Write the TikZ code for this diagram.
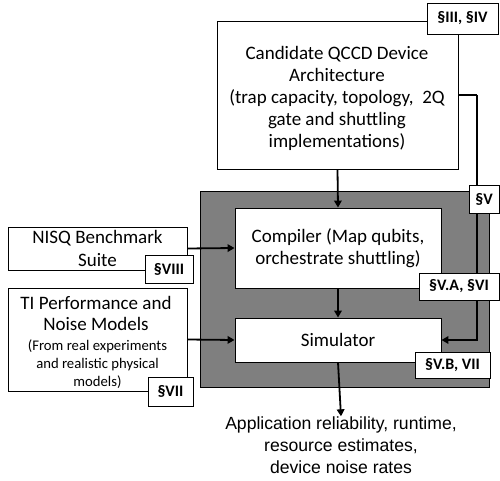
\documentclass[tikz,border=0pt]{standalone}
\usepackage{fontspec}
\setmainfont{Carlito}
\newfontfamily\arialf{Liberation Sans}
\usetikzlibrary{arrows.meta}
\definecolor{boxgray}{HTML}{7F7F7F}
\tikzset{
  box/.style={draw=black, line width=0.9pt, fill=white, align=center, inner sep=0pt, font=\fontsize{19}{22.5}\selectfont},
  txt/.style={align=center, inner sep=0pt},
  tag/.style={draw=black, line width=0.9pt, fill=white, align=center, inner sep=0pt, font=\fontsize{16}{18}\selectfont\bfseries},
  conn/.style={line width=1.8pt, -{Triangle[length=7pt,width=7.5pt]}},
  plain/.style={line width=1.8pt}
}
\begin{document}
\begin{tikzpicture}[x=1pt,y=-1pt]
\useasboundingbox (0,0) rectangle (500,481);
% gray area
\node[draw=black, line width=0.9pt, fill=boxgray, minimum width=289pt, minimum height=196pt, inner sep=0pt] (gray) at (344.5,289) {};
% main boxes
\node[box, minimum width=241pt, minimum height=148pt] (cand) at (337.5,95) {};
\node[txt, font=\fontsize{19}{22}\selectfont] (candt) at (337,98) {Candidate QCCD Device\\Architecture\\(trap capacity, topology,\ \ 2Q\\gate and shuttling\\implementations)};
\node[box, minimum width=206pt, minimum height=80pt] (comp) at (338,248) {Compiler (Map qubits,\\orchestrate shuttling)};
\node[box, minimum width=206pt, minimum height=44pt] (sim) at (338,340) {Simulator};
\node[box, minimum width=179pt, minimum height=43pt] (nisq) at (97.5,248.5) {NISQ Benchmark\\Suite};
\node[box, minimum width=179pt, minimum height=103pt] (ti) at (97.5,339.5) {};
\node[txt, font=\fontsize{19}{20.5}\selectfont] (tit) at (96,313.5) {TI Performance and\\Noise Models};
\node[txt, font=\fontsize{14.7}{18}\selectfont] (tis) at (97.5,364) {(From real experiments\\and realistic physical\\models)};
\node[txt, font=\arialf\fontsize{17.6}{22}\selectfont] (out) at (341,445) {Application reliability, runtime,\\resource estimates,\\device noise rates};
% connectors
\coordinate (rt) at (477,95);
\draw[conn] (cand.south) -- (comp.north);
\draw[plain] (cand.east) -- (rt);
\draw[conn] (rt) |- (sim.east);
\draw[conn] (comp.south) -- (sim.north);
\draw[conn] (nisq.east) -- (comp.west);
\draw[conn] (ti.east) -- (sim.west);
\draw[conn] (sim.south) -- (out.north);
% tags
\node[tag, minimum width=71pt, minimum height=31pt] (t1) at (462.5,18.5) {§III, §IV};
\node[tag, minimum width=30pt, minimum height=28pt] (t2) at (484,199) {§V};
\node[tag, minimum width=80pt, minimum height=27pt] (t3) at (459,286.5) {§V.A, §VI};
\node[tag, minimum width=75pt, minimum height=26pt] (t4) at (452.5,365) {§V.B, VII};
\node[tag, minimum width=48pt, minimum height=28pt] (t5) at (169,269) {§VIII};
\node[tag, minimum width=45pt, minimum height=29pt] (t6) at (170.5,391.5) {§VII};
\end{tikzpicture}
\end{document}
